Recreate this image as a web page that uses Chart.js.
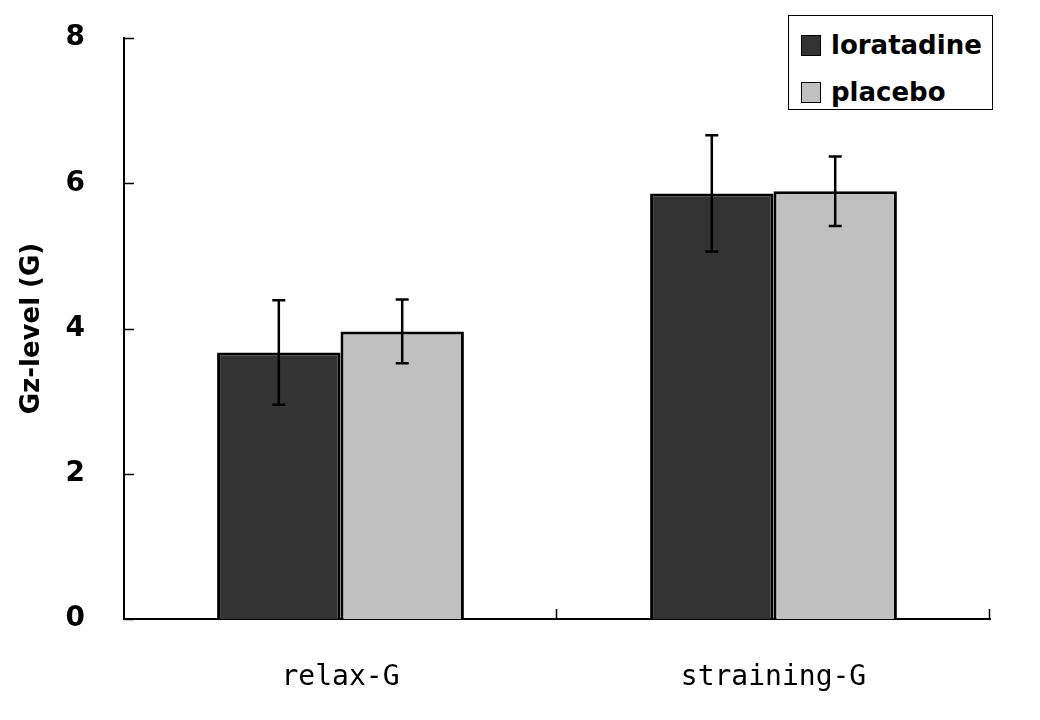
<!DOCTYPE html>
<html>
<head>
<meta charset="utf-8">
<script src="https://cdn.jsdelivr.net/npm/chart.js@4.4.0/dist/chart.umd.min.js"></script>
<style>
    html, body { margin: 0; padding: 0; background: #fff; }
    #wrap { position: relative; width: 1040px; height: 720px; }
    #legend {
        position: absolute; left: 788px; top: 15px; width: 203px; height: 93px;
        border: 1px solid #000; background: #fff;
        font: bold 26px "DejaVu Sans", sans-serif; color: #000;
    }
    .item { position: absolute; left: 12px; height: 30px; display: flex; align-items: center; }
    .swatch { width: 18px; height: 19px; border: 1.5px solid #000; margin-right: 10px; }
</style>
</head>
<body>
<div id="wrap">
    <canvas id="chart" width="1040" height="720"></canvas>
    <div id="legend"></div>
</div>
<script>
// ---- data ----
const categories = ['relax-G', 'straining-G'];
const seriesNames = ['loratadine', 'placebo'];
const loratadineMean = [3.67, 5.86];
const loratadineErr = [0.72, 0.80];
const placeboMean = [3.96, 5.89];
const placeboErr = [0.44, 0.48];
const yTicks = [0, 2, 4, 6, 8];

const COLORS = ['#333333', '#c0c0c0'];
const errors = [loratadineErr, placeboErr];

// Error bars drawn from the scale of each bar
const errorBarPlugin = {
    id: 'errorBars',
    afterDatasetsDraw(chart) {
        const ctx = chart.ctx;
        const yScale = chart.scales.y;
        ctx.save();
        ctx.strokeStyle = '#000';
        ctx.lineWidth = 2.5;
        chart.data.datasets.forEach((ds, di) => {
            const meta = chart.getDatasetMeta(di);
            meta.data.forEach((bar, i) => {
                const v = ds.data[i];
                const e = errors[di][i];
                const top = yScale.getPixelForValue(v + e);
                const bot = yScale.getPixelForValue(v - e);
                ctx.beginPath();
                ctx.moveTo(bar.x, top);
                ctx.lineTo(bar.x, bot);
                ctx.moveTo(bar.x - 6.5, top);
                ctx.lineTo(bar.x + 6.5, top);
                ctx.moveTo(bar.x - 6.5, bot);
                ctx.lineTo(bar.x + 6.5, bot);
                ctx.stroke();
            });
        });
        ctx.restore();
    }
};

// Inward tick marks on both axes
const innerTicksPlugin = {
    id: 'innerTicks',
    afterDraw(chart) {
        const ctx = chart.ctx;
        const area = chart.chartArea;
        const x = chart.scales.x;
        const y = chart.scales.y;
        ctx.save();
        ctx.strokeStyle = '#000';
        ctx.lineWidth = 1.5;
        ctx.beginPath();
        yTicks.forEach(t => {
            const py = Math.round(y.getPixelForValue(t)) + 0.5;
            ctx.moveTo(area.left, py);
            ctx.lineTo(area.left + 10, py);
        });
        categories.forEach((c, i) => {
            const px = Math.round(x.getPixelForValue(i + 0.5)) - 0.5;
            ctx.moveTo(px, area.bottom);
            ctx.lineTo(px, area.bottom - 10);
        });
        ctx.stroke();
        ctx.restore();
    }
};

new Chart(document.getElementById('chart'), {
    type: 'bar',
    data: {
        labels: categories,
        datasets: [
            { label: seriesNames[0], data: loratadineMean, backgroundColor: COLORS[0], borderColor: '#000', borderWidth: 3 },
            { label: seriesNames[1], data: placeboMean, backgroundColor: COLORS[1], borderColor: '#000', borderWidth: 3 }
        ]
    },
    options: {
        responsive: false,
        animation: false,
        devicePixelRatio: 1,
        layout: { padding: { top: 38, right: 50, left: 0, bottom: 0 } },
        plugins: {
            legend: { display: false },
            tooltip: { enabled: false }
        },
        datasets: {
            bar: { categoryPercentage: 0.57, barPercentage: 1.0 }
        },
        scales: {
            x: {
                grid: { display: false },
                border: { display: true, color: '#000', width: 2 },
                ticks: {
                    color: '#000',
                    padding: 34,
                    font: { family: '"DejaVu Sans Mono", monospace', size: 28 }
                },
                afterFit(scale) { scale.height = 101; }
            },
            y: {
                min: 0,
                max: 8,
                afterBuildTicks(scale) { scale.ticks = yTicks.map(v => ({ value: v })); },
                grid: { display: false },
                border: { display: true, color: '#000', width: 2 },
                ticks: {
                    color: '#000',
                    padding: 31,
                    font: { family: '"DejaVu Sans", sans-serif', size: 28, weight: 'bold' }
                },
                title: {
                    display: true,
                    text: 'Gz-level (G)',
                    color: '#000',
                    padding: { top: 17, bottom: 0 },
                    font: { family: '"DejaVu Sans", sans-serif', size: 26, weight: 'bold' }
                },
                afterFit(scale) {
                    scale.width = 124;
                    scale.paddingTop = 0;
                    scale.paddingBottom = 0;
                }
            }
        }
    },
    plugins: [errorBarPlugin, innerTicksPlugin]
});

// HTML legend built from the series names
const legend = document.getElementById('legend');
seriesNames.forEach((name, i) => {
    const item = document.createElement('div');
    item.className = 'item';
    item.style.top = (i === 0 ? 14 : 61) + 'px';
    item.innerHTML = '<span class="swatch" style="background:' + COLORS[i] + '"></span><span>' + name + '</span>';
    legend.appendChild(item);
});
</script>
</body>
</html>
